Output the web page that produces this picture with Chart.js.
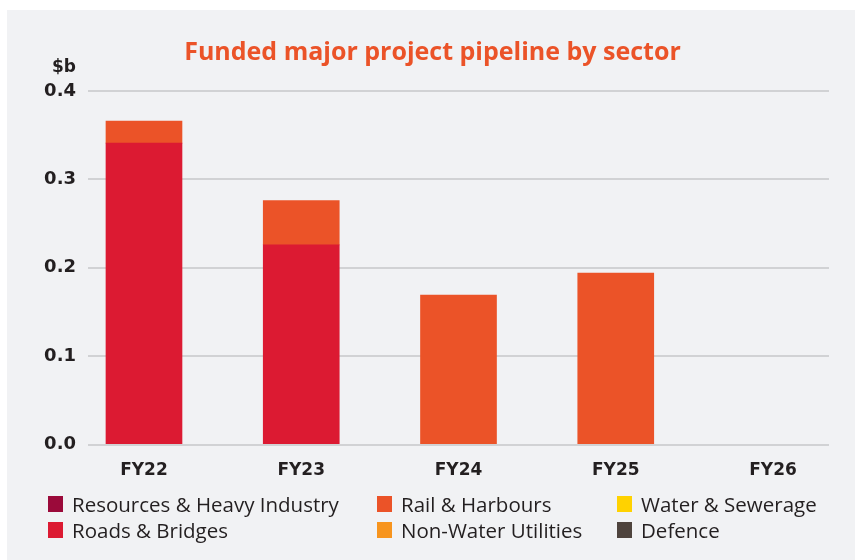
<!DOCTYPE html>
<html>
<head>
<meta charset="utf-8">
<script src="https://cdn.jsdelivr.net/npm/chart.js@4/dist/chart.umd.min.js"></script>
<style>
  html,body{margin:0;padding:0;background:#ffffff;}
  #panel{position:absolute;left:7px;top:10px;width:848px;height:550px;background:#f1f2f4;}
  #wrap{position:absolute;left:0;top:0;width:861px;height:503px;}
  #legend{position:absolute;left:48px;top:493px;width:800px;display:grid;
    grid-template-columns:329px 240px 230px;row-gap:5px;
    font-family:"Open Sans",sans-serif;font-size:20.5px;color:#231f20;}
  #legend .it{display:flex;align-items:center;height:21px;white-space:nowrap;}
  #legend .bx{width:15px;height:16px;margin-right:9px;flex:none;}
</style>
</head>
<body>
<div id="panel"></div>
<div id="wrap"><canvas id="c" width="861" height="503"></canvas></div>
<div id="legend"></div>
<script>
const categories = ["FY22","FY23","FY24","FY25","FY26"];
const resourcesHeavy = [0, 0, 0, 0, 0];
const roadsBridges   = [0.341, 0.226, 0, 0, 0];
const railHarbours   = [0.025, 0.050, 0.169, 0.194, 0];
const nonWaterUtil   = [0, 0, 0, 0, 0];
const waterSewerage  = [0, 0, 0, 0, 0];
const defence        = [0, 0, 0, 0, 0];
const yTicks = [0, 0.1, 0.2, 0.3, 0.4];

const toPts = arr => arr.map((v,i)=>({x:i, y:(v === 0 ? null : v)}));

const datasets = [
  {label:"Resources & Heavy Industry", data:toPts(resourcesHeavy), backgroundColor:"#9b0a3a"},
  {label:"Roads & Bridges", data:toPts(roadsBridges), backgroundColor:"#dc1a32"},
  {label:"Rail & Harbours", data:toPts(railHarbours), backgroundColor:"#eb5328"},
  {label:"Non-Water Utilities", data:toPts(nonWaterUtil), backgroundColor:"#f7941d"},
  {label:"Water & Sewerage", data:toPts(waterSewerage), backgroundColor:"#ffd200"},
  {label:"Defence", data:toPts(defence), backgroundColor:"#4e433d"}
];
const legendOrder = [0,2,4,1,3,5];

const unitLabel = {
  id:"unitLabel",
  afterDraw(chart){
    const ctx = chart.ctx;
    const y = chart.scales.y;
    ctx.save();
    ctx.font = "bold 17px 'DejaVu Sans'";
    ctx.fillStyle = "#231f20";
    ctx.textAlign = "right";
    ctx.textBaseline = "middle";
    ctx.fillText("$b", y.right - 12, y.getPixelForValue(0.4) - 23);
    ctx.restore();
  }
};

const chart = new Chart(document.getElementById("c"), {
  type:"bar",
  data:{datasets},
  plugins:[unitLabel],
  options:{
    responsive:false,
    animation:false,
    layout:{padding:{left:36,right:32,top:28,bottom:14}},
    datasets:{bar:{barThickness:76,borderWidth:0}},
    plugins:{
      legend:{display:false},
      tooltip:{enabled:false},
      title:{display:true,text:"Funded major project pipeline by sector",
        color:"#eb5328",font:{family:"'Open Sans'",size:25,weight:"bold"},
        padding:{top:10,bottom:23}}
    },
    scales:{
      x:{type:"linear",stacked:true,min:-0.356,max:4.356,offset:false,
        grid:{display:false},border:{display:false},
        afterBuildTicks(s){ s.ticks = categories.map((_,i)=>({value:i})); },
        ticks:{autoSkip:false,padding:8,color:"#231f20",
          font:{family:"'DejaVu Sans'",size:17,weight:"bold"},
          callback:(v)=>categories[v] ?? ""}},
      y:{stacked:true,min:0,max:0.4,
        afterFit(s){ s.width = 52; },
        afterBuildTicks(s){ s.ticks = yTicks.map(v=>({value:v})); },
        grid:{color:"#d1d2d4",lineWidth:2,drawTicks:false},
        border:{display:false},
        ticks:{padding:12,color:"#231f20",
          font:{family:"'DejaVu Sans'",size:18,weight:"bold"},
          callback:(v)=>Number(v).toFixed(1)}}
    }
  }
});

const leg = document.getElementById("legend");
legendOrder.forEach(i=>{
  const ds = chart.data.datasets[i];
  const it = document.createElement("div"); it.className="it";
  const bx = document.createElement("span"); bx.className="bx"; bx.style.background = ds.backgroundColor;
  const tx = document.createElement("span"); tx.textContent = ds.label;
  it.appendChild(bx); it.appendChild(tx); leg.appendChild(it);
});
</script>
</body>
</html>
